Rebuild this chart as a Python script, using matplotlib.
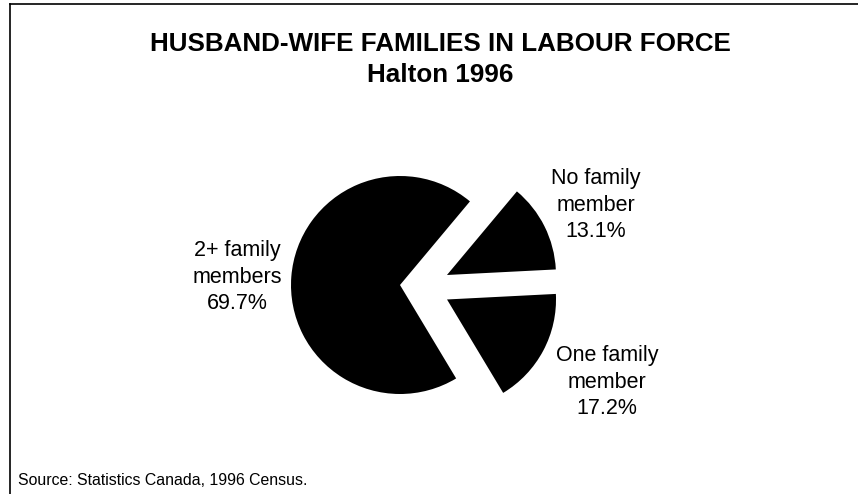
import matplotlib
matplotlib.use("Agg")
import matplotlib.pyplot as plt
from matplotlib.lines import Line2D

plt.rcParams['font.family'] = ['Liberation Sans', 'DejaVu Sans']

# ---- data ----
categories = ["One family\nmember", "No family\nmember", "2+ family\nmembers"]
values = [17.2, 13.1, 69.7]
title_lines = ["HUSBAND-WIFE FAMILIES IN LABOUR FORCE", "Halton 1996"]
source = "Source: Statistics Canada, 1996 Census."

# ---- layout / style ----
W, H, DPI = 858, 494, 100
R = 109.0                      # pie radius in pixels
big_center_px = (400, 285)     # where the large wedge's apex sits (pixels from top-left)
explode = [0.247, 0.243, 0.214]
label_centers_px = [(607, 382), (596, 205), (237, 277)]

fig = plt.figure(figsize=(W / DPI, H / DPI), dpi=DPI)
ax = fig.add_axes([0, 0, 1, 1])
ax.axis('off')

wedges, _ = ax.pie(values, explode=explode, startangle=-59, counterclock=True,
                   colors=['black'] * len(values), radius=1.0,
                   wedgeprops=dict(linewidth=0))

cx, cy = wedges[2].center
px, py = big_center_px
ax.set_xlim(cx - px / R, cx + (W - px) / R)
ax.set_ylim(cy - (H - py) / R, cy + py / R)
ax.set_aspect('auto')

def px2data(x, y):
    x0, _ = ax.get_xlim()
    _, y1 = ax.get_ylim()
    return x0 + x / R, y1 - y / R

for cat, val, (lx, ly) in zip(categories, values, label_centers_px):
    dx, dy = px2data(lx, ly)
    ax.text(dx, dy, f"{cat}\n{val:.1f}%", ha='center', va='center',
            multialignment='center', fontsize=15.5, linespacing=1.34, color='black')

# title
fig.text(440 / W, 1 - 32 / H, "\n".join(title_lines), ha='center', va='top',
         fontsize=18.7, fontweight='bold', linespacing=1.35, color='black')

# source note
fig.text(18 / W, 1 - 485 / H, source, ha='left', va='baseline',
         fontsize=11.4, color='black')

# frame (left and top edges)
fig.add_artist(Line2D([10 / W, 10 / W], [0, 1 - 4 / H], transform=fig.transFigure,
                      color='black', linewidth=1.2))
fig.add_artist(Line2D([10 / W, 1], [1 - 4 / H, 1 - 4 / H], transform=fig.transFigure,
                      color='black', linewidth=1.2))

fig.savefig("out.png", dpi=DPI, facecolor='white')
